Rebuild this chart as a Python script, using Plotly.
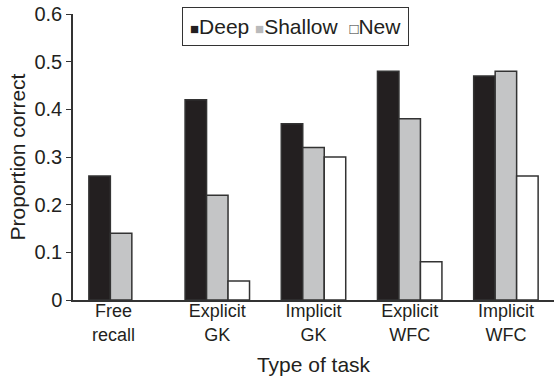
import plotly.graph_objects as go

categories = ["Free recall", "Explicit GK", "Implicit GK", "Explicit WFC", "Implicit WFC"]
tick_text = ["Free&nbsp;&nbsp;&nbsp;<br>recall&nbsp;&nbsp;&nbsp;", "Explicit<br>GK",
             "Implicit<br>GK", "Explicit<br>WFC", "Implicit<br>WFC"]
deep = [0.26, 0.42, 0.37, 0.48, 0.47]
shallow = [0.14, 0.22, 0.32, 0.38, 0.48]
new = [0.0, 0.04, 0.30, 0.08, 0.26]   # no "New" bar drawn for free recall
y_ticks = [0, 0.1, 0.2, 0.3, 0.4, 0.5, 0.6]
y_tick_text = ["0", "0.1", "0.2", "0.3", "0.4", "0.5", "0.6"]

FONT = "Liberation Sans, Arial, sans-serif"
INK = "#231f20"
EDGE = "#333333"

new_line_w = [0 if v == 0 else 1.5 for v in new]

fig = go.Figure()
fig.add_trace(go.Bar(name="Deep", x=categories, y=deep,
                     marker=dict(color="#231f20", line=dict(color=EDGE, width=1.5))))
fig.add_trace(go.Bar(name="Shallow", x=categories, y=shallow,
                     marker=dict(color="#c4c5c6", line=dict(color=EDGE, width=1.5))))
fig.add_trace(go.Bar(name="New", x=categories, y=new,
                     marker=dict(color="#ffffff", line=dict(color=EDGE, width=new_line_w))))

sq = '<span style="font-size:15px;color:{c}">{g}</span>'
legend_text = (sq.format(c="#231f20", g="■") + "Deep&nbsp;"
               + sq.format(c="#b9babb", g="■") + "Shallow&nbsp;&nbsp;"
               + sq.format(c="#333333", g="□") + "New")

fig.add_annotation(
    text=legend_text, xref="paper", yref="paper", x=0.4636, y=0.958,
    xanchor="center", yanchor="middle", showarrow=False,
    font=dict(family=FONT, size=21, color=INK),
    bordercolor=EDGE, borderwidth=1, borderpad=7, bgcolor="white",
)

fig.update_layout(
    width=554, height=378,
    margin=dict(l=73, r=0, t=14, b=78, autoexpand=False),
    paper_bgcolor="white", plot_bgcolor="white",
    barmode="group", bargap=0.33, bargroupgap=0,
    showlegend=False,
    font=dict(family=FONT, color=INK, size=18),
    xaxis=dict(
        showline=True, linecolor=EDGE, linewidth=1.5, ticks="", automargin=False,
        tickvals=categories, ticktext=tick_text,
        tickfont=dict(size=18, color=INK), ticklabelstandoff=-6,
        title=dict(text="Type of task", font=dict(size=21, color=INK), standoff=14),
        range=[-0.5, 4.5],
    ),
    yaxis=dict(
        range=[0, 0.6], tickvals=y_ticks, ticktext=y_tick_text, automargin=False,
        showline=True, linecolor=EDGE, linewidth=1.5, ticks="outside",
        ticklen=5, tickcolor=EDGE, showgrid=False, zeroline=False,
        tickfont=dict(size=20, color=INK),
        title=dict(text="Proportion correct", font=dict(size=21, color=INK), standoff=3),
    ),
)

fig.write_html("out.html", config={"displayModeBar": False},
               post_script="document.body.style.margin='0';document.body.style.overflow='hidden';")
